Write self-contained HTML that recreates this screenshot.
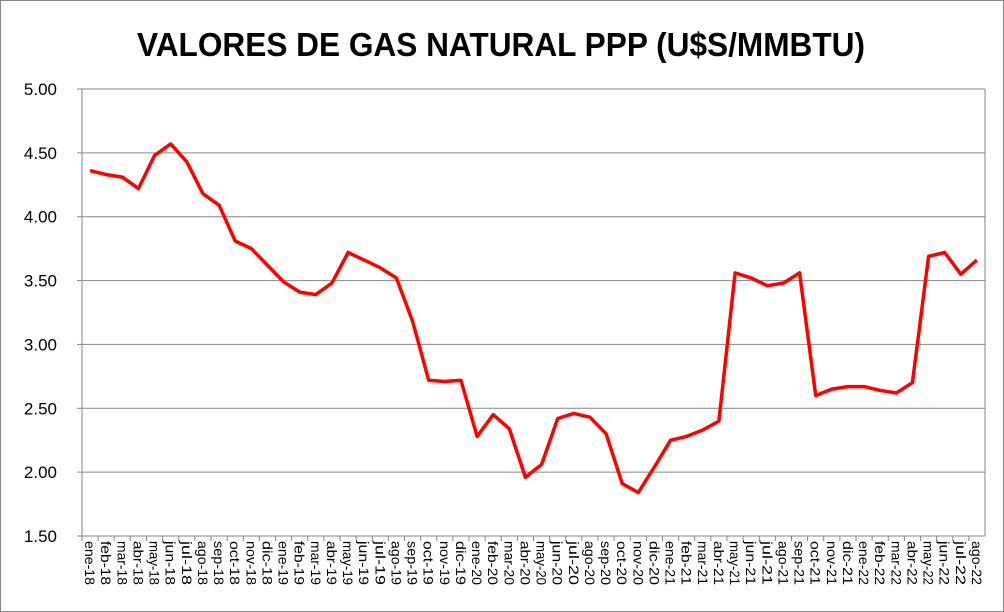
<!DOCTYPE html>
<html><head><meta charset="utf-8"><style>
html,body{margin:0;padding:0;background:#fff;}
svg{display:block;font-family:"Liberation Sans",Arial,sans-serif;}
</style></head><body>
<svg id="c" width="1004" height="612" xmlns="http://www.w3.org/2000/svg">
<rect x="0.5" y="0.5" width="1003" height="611" fill="#fff" stroke="#868686"/>
<text x="501" y="56" text-anchor="middle" font-size="33" font-weight="bold" fill="#000" textLength="728" lengthAdjust="spacingAndGlyphs">VALORES DE GAS NATURAL PPP (U$S/MMBTU)</text>
<g id="g"></g>
</svg>
<script>
var d=[4.36,4.33,4.31,4.22,4.48,4.57,4.43,4.18,4.09,3.81,3.75,3.62,3.49,3.41,3.39,3.48,3.72,3.66,3.60,3.52,3.18,2.72,2.71,2.72,2.28,2.45,2.34,1.96,2.06,2.42,2.46,2.43,2.30,1.91,1.84,2.04,2.25,2.28,2.33,2.40,3.56,3.52,3.46,3.48,3.56,2.60,2.65,2.67,2.67,2.64,2.62,2.70,3.69,3.72,3.55,3.66];
var m=["ene","feb","mar","abr","may","jun","jul","ago","sep","oct","nov","dic"];
var x0=82,x1=985,yt=89,yb=536,n=d.length,w=(x1-x0)/n;
function Y(v){return yb-(v-1.5)/3.5*(yb-yt);}
var s="";
for(var i=0;i<8;i++){var v=1.5+i*0.5,y=Y(v);
s+='<line x1="'+x0+'" x2="'+x1+'" y1="'+y+'" y2="'+y+'" stroke="#868686" stroke-width="1"/>';
s+='<line x1="'+(x0-5)+'" x2="'+x0+'" y1="'+y+'" y2="'+y+'" stroke="#868686"/>';
s+='<text x="57" y="'+(y+6)+'" text-anchor="end" font-size="17">'+v.toFixed(2)+'</text>';}
s+='<line x1="'+x0+'" x2="'+x0+'" y1="'+yt+'" y2="'+yb+'" stroke="#868686"/>';
s+='<line x1="'+x1+'" x2="'+x1+'" y1="'+yt+'" y2="'+yb+'" stroke="#868686"/>';
var p=[];
for(var i=0;i<n;i++){var cx=x0+w*(i+0.5);p.push(cx.toFixed(1)+','+Y(d[i]).toFixed(1));
var lab=m[i%12]+'-'+(18+Math.floor(i/12));
s+='<line x1="'+(x0+w*i)+'" x2="'+(x0+w*i)+'" y1="'+yb+'" y2="'+(yb+5)+'" stroke="#868686"/>';
s+='<text transform="translate('+(cx-5)+',541) rotate(90)" font-size="14" textLength="44" lengthAdjust="spacingAndGlyphs">'+lab+'</text>';}
s+='<polyline points="'+p.join(' ')+'" fill="none" stroke="#ff0000" stroke-width="3.5" stroke-linejoin="round"/>';
document.getElementById('g').innerHTML=s;
</script>
</body></html>
